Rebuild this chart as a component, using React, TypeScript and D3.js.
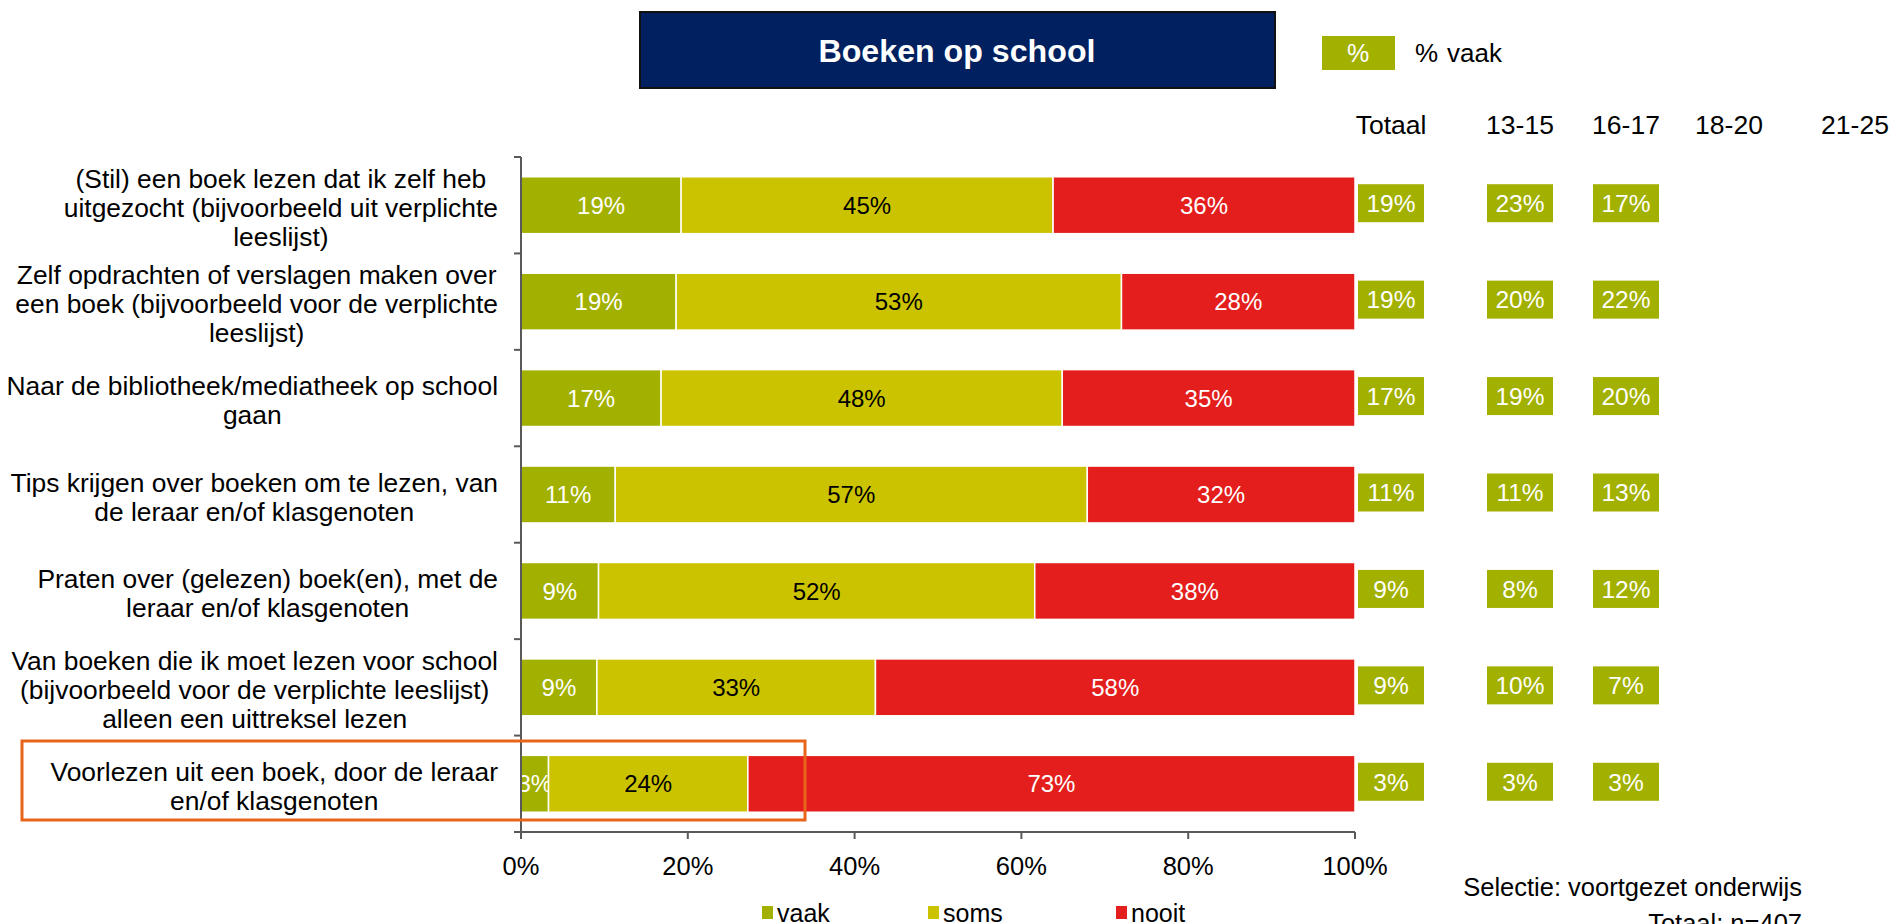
import React from "react"
import { scaleLinear, scaleBand, scaleOrdinal, range } from "d3"

const width = 1890
const height = 924

const categories = [
  "(Stil) een boek lezen dat ik zelf heb\nuitgezocht (bijvoorbeeld uit verplichte\nleeslijst)",
  "Zelf opdrachten of verslagen maken over\neen boek (bijvoorbeeld voor de verplichte\nleeslijst)",
  "Naar de bibliotheek/mediatheek op school\ngaan",
  "Tips krijgen over boeken om te lezen, van\nde leraar en/of klasgenoten",
  "Praten over (gelezen) boek(en), met de\nleraar en/of klasgenoten",
  "Van boeken die ik moet lezen voor school\n(bijvoorbeeld voor de verplichte leeslijst)\nalleen een uittreksel lezen",
  "Voorlezen uit een boek, door de leraar\nen/of klasgenoten",
]

// percentages per answer
const vaak = [19.2, 18.6, 16.8, 11.3, 9.3, 9.1, 3.3]
const soms = [44.6, 53.4, 48.1, 56.6, 52.3, 33.4, 23.9]
const nooit = [36.2, 28.0, 35.1, 32.1, 38.4, 57.5, 72.8]

const seriesNames = ["vaak", "soms", "nooit"]
const seriesColors = ["#a2b000", "#ccc300", "#e31e1c"]
const labelColors = ["#ffffff", "#000000", "#ffffff"]

// % vaak per age group
const ageGroups = ["Totaal", "13-15", "16-17", "18-20", "21-25"]
const vaakTotaal = [19, 19, 17, 11, 9, 9, 3]
const vaak1315 = [23, 20, 19, 11, 8, 10, 3]
const vaak1617 = [17, 22, 20, 13, 12, 7, 3]

const xTicks = [0, 20, 40, 60, 80, 100]

const font = "'Liberation Sans', Arial, sans-serif"

const plot = { left: 521, right: 1355, top: 157, bottom: 832 }

let ctx: CanvasRenderingContext2D | null = null
function textWidth(s: string, size: number) {
  if (!ctx) ctx = document.createElement("canvas").getContext("2d")
  if (!ctx) return s.length * size * 0.5
  ctx.font = `${size}px ${font}`
  return ctx.measureText(s).width
}

function App() {
  const xScale = scaleLinear().domain([0, 100]).range([plot.left, plot.right])

  const yScale = scaleBand<number>()
    .domain(range(categories.length))
    .range([plot.top, plot.bottom])
    .paddingInner(0.41)
    .paddingOuter(0.205)

  const step = yScale.step()
  const bw = yScale.bandwidth()

  const colX = scaleOrdinal<string, number>()
    .domain(ageGroups)
    .range([1391, 1520, 1626, 1729, 1855])

  const colData = [vaakTotaal, vaak1315, vaak1617]

  const labelSize = 26.4
  const lineH = 29
  const labelRight = 498

  return (
    <svg width={width} height={height} style={{ position: "absolute", left: 0, top: 0 }} fontFamily={font}>
      {/* title */}
      <rect x={640} y={12} width={635} height={76} fill="#002060" stroke="#111" strokeWidth={2} />
      <text x={957} y={50} dy="0.36em" textAnchor="middle" fill="#fff" fontSize={32} fontWeight="bold" textLength={277} lengthAdjust="spacingAndGlyphs">
        Boeken op school
      </text>

      {/* legend top */}
      <rect x={1322} y={36} width={73} height={34} fill="#a2b000" />
      <text x={1358} y={53} dy="0.36em" textAnchor="middle" fill="#fff" fontSize={25}>%</text>
      <text x={1415} y={53} dy="0.36em" fontSize={26} fill="#000">%</text>
      <text x={1447} y={53} dy="0.36em" fontSize={26} fill="#000">vaak</text>

      {/* column headers */}
      {ageGroups.map(g => (
        <text key={g} x={colX(g)} y={124} dy="0.36em" textAnchor="middle" fontSize={26.5} fill="#000">{g}</text>
      ))}

      {/* bars */}
      {categories.map((c, i) => {
        const vals = [vaak[i], soms[i], nooit[i]]
        let acc = 0
        return (
          <g key={c}>
            {vals.map((v, j) => {
              const x0 = xScale(acc)
              acc += v
              const x1 = xScale(acc)
              return (
                <g key={j}>
                  <rect x={x0} y={yScale(i)} width={x1 - x0} height={bw} fill={seriesColors[j]} stroke="#fff" strokeWidth={1.5} />
                  <text x={(x0 + x1) / 2} y={yScale(i)! + bw / 2} dy="0.36em" textAnchor="middle" fill={labelColors[j]} fontSize={24}>
                    {Math.round(v)}%
                  </text>
                </g>
              )
            })}
          </g>
        )
      })}

      {/* axes */}
      <line x1={plot.left} x2={plot.left} y1={plot.top} y2={plot.bottom} stroke="#595959" strokeWidth={2} />
      {range(categories.length + 1).map(k => (
        <line key={k} x1={plot.left - 7} x2={plot.left} y1={plot.top + k * step} y2={plot.top + k * step} stroke="#595959" strokeWidth={2} />
      ))}
      <line x1={plot.left} x2={plot.right} y1={plot.bottom} y2={plot.bottom} stroke="#595959" strokeWidth={2} />
      {xTicks.map(t => (
        <g key={t} transform={`translate(${xScale(t)},${plot.bottom})`}>
          <line y2={7} stroke="#595959" strokeWidth={2} />
          <text y={34} dy="0.36em" textAnchor="middle" fontSize={25.5} fill="#000">{t}%</text>
        </g>
      ))}

      {/* category labels */}
      {categories.map((c, i) => {
        const lines = c.split("\n")
        const maxW = Math.max(...lines.map(l => textWidth(l, labelSize)))
        const cx = labelRight - maxW / 2
        const cy = yScale(i)! + bw / 2 + 2
        const y0 = cy - ((lines.length - 1) * lineH) / 2
        return (
          <text key={c} textAnchor="middle" fontSize={labelSize} fill="#000">
            {lines.map((l, k) => (
              <tspan key={k} x={cx} y={y0 + k * lineH} dy="0.36em">{l}</tspan>
            ))}
          </text>
        )
      })}

      {/* % vaak boxes per age group */}
      {colData.map((arr, j) =>
        arr.map((v, i) => {
          const cx = colX(ageGroups[j])
          const cy = yScale(i)! + bw / 2 - 2
          return (
            <g key={`${j}-${i}`}>
              <rect x={cx - 33} y={cy - 19} width={66} height={38} fill="#a2b000" />
              <text x={cx} y={cy} dy="0.36em" textAnchor="middle" fill="#fff" fontSize={24.5}>{v}%</text>
            </g>
          )
        })
      )}

      {/* highlight */}
      <rect x={22} y={741} width={783} height={79} fill="none" stroke="#e8641b" strokeWidth={3} />

      {/* bottom legend */}
      {seriesNames.map((s, j) => {
        const lx = [762, 928, 1116][j]
        return (
          <g key={s}>
            <rect x={lx} y={906} width={11} height={13} fill={seriesColors[j]} />
            <text x={lx + 15} y={913} dy="0.36em" fontSize={25} fill="#000">{s}</text>
          </g>
        )
      })}

      {/* notes */}
      <text x={1802} y={887} dy="0.36em" textAnchor="end" fontSize={25.5} fill="#000">Selectie: voortgezet onderwijs</text>
      <text x={1802} y={923} dy="0.36em" textAnchor="end" fontSize={25.5} fill="#000">Totaal: n=407</text>
    </svg>
  )
}

export default App
